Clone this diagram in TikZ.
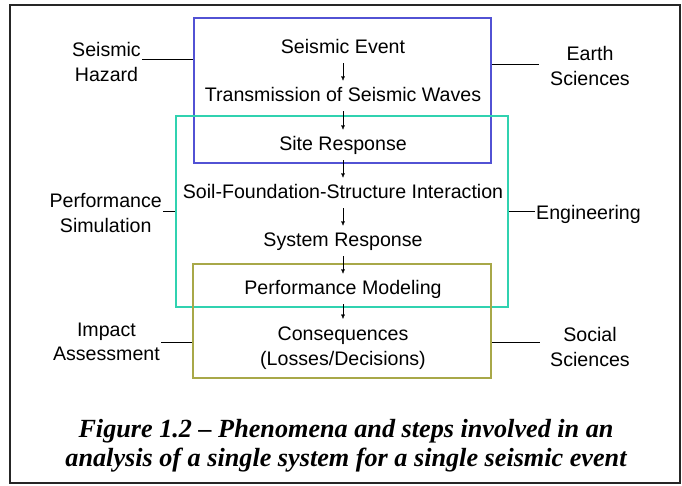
\documentclass[tikz,border=0pt]{standalone}
\usepackage{fontspec}
\setmainfont{Liberation Sans}
\newfontfamily\capfont{Liberation Serif}
\usetikzlibrary{arrows.meta}
\definecolor{earthblue}{RGB}{82,82,212}
\definecolor{engteal}{RGB}{48,210,176}
\definecolor{socolive}{RGB}{168,168,72}
\tikzset{
  stepnode/.style={inner sep=0pt, text height=14pt, text depth=4pt, font=\fontsize{19.6}{24.5}\selectfont},
  fieldnode/.style={inner sep=1pt, align=center, font=\fontsize{19.6}{24.5}\selectfont},
  stepbox/.style={draw, line width=2.2pt, minimum width=#1, inner sep=0pt},
  flow/.style={-{Latex[length=4.5pt,width=4pt]}, thin, shorten >=6pt, shorten <=6pt},
}
\begin{document}
\begin{tikzpicture}[x=1pt,y=-1pt]
\useasboundingbox (0,0) rectangle (682,485);
\draw[black!85, line width=1.2pt] (10,5) rectangle (680,483);

% the three fields
\node[stepbox=297pt, minimum height=145pt, draw=earthblue] (earthbox) at (342.5,90.5) {};
\node[stepbox=332pt, minimum height=191pt, draw=engteal] (engbox) at (342,211.5) {};
\node[stepbox=298pt, minimum height=114pt, draw=socolive] (socbox) at (342,321) {};

% steps
\node[stepnode] (event) at (343,48) {Seismic Event};
\node[stepnode] (waves) at (343,96) {Transmission of Seismic Waves};
\node[stepnode] (site) at (343,145) {Site Response};
\node[stepnode] (ssi) at (343,193) {Soil-Foundation-Structure Interaction};
\node[stepnode] (sysresp) at (343,241) {System Response};
\node[stepnode] (perfmod) at (343,289) {Performance Modeling};
\node[fieldnode, anchor=north] (conseq) at (343,326) {Consequences\\(Losses/Decisions)};

\foreach \a/\b in {event/waves, waves/site, site/ssi, ssi/sysresp, sysresp/perfmod}
	\draw[flow] (\a) -- (\b);
\draw[flow, shorten >=7pt] (perfmod) -- (conseq);

% labels on the left
\node[fieldnode, anchor=east] (hazard) at (142,62) {Seismic\\Hazard};
\node[fieldnode, anchor=east] (perfsim) at (163,213) {Performance\\Simulation};
\node[fieldnode, anchor=east] (impact) at (161,342) {Impact\\Assessment};
\draw (hazard.east |- 0,59) -- (earthbox.west |- 0,59);
\draw (perfsim.east |- 0,211) -- (engbox.west |- 0,211);
\draw (impact.east |- 0,342) -- (socbox.west |- 0,342);

% labels on the right
\node[fieldnode] (earth) at (590,66) {Earth\\Sciences};
\node[fieldnode, anchor=west] (eng) at (535,214) {Engineering};
\node[fieldnode] (social) at (590,347) {Social\\Sciences};
\draw (earthbox.east |- 0,64) -- (539,64);
\draw (engbox.east |- 0,211) -- (eng.west |- 0,211);
\draw (socbox.east |- 0,342) -- (540,342);

% caption
\node[align=center, font=\capfont\bfseries\itshape\fontsize{26.2}{29}\selectfont] (caption) at (346,446)
	{Figure 1.2 – Phenomena and steps involved in an\\analysis of a single system for a single seismic event};
\end{tikzpicture}
\end{document}
